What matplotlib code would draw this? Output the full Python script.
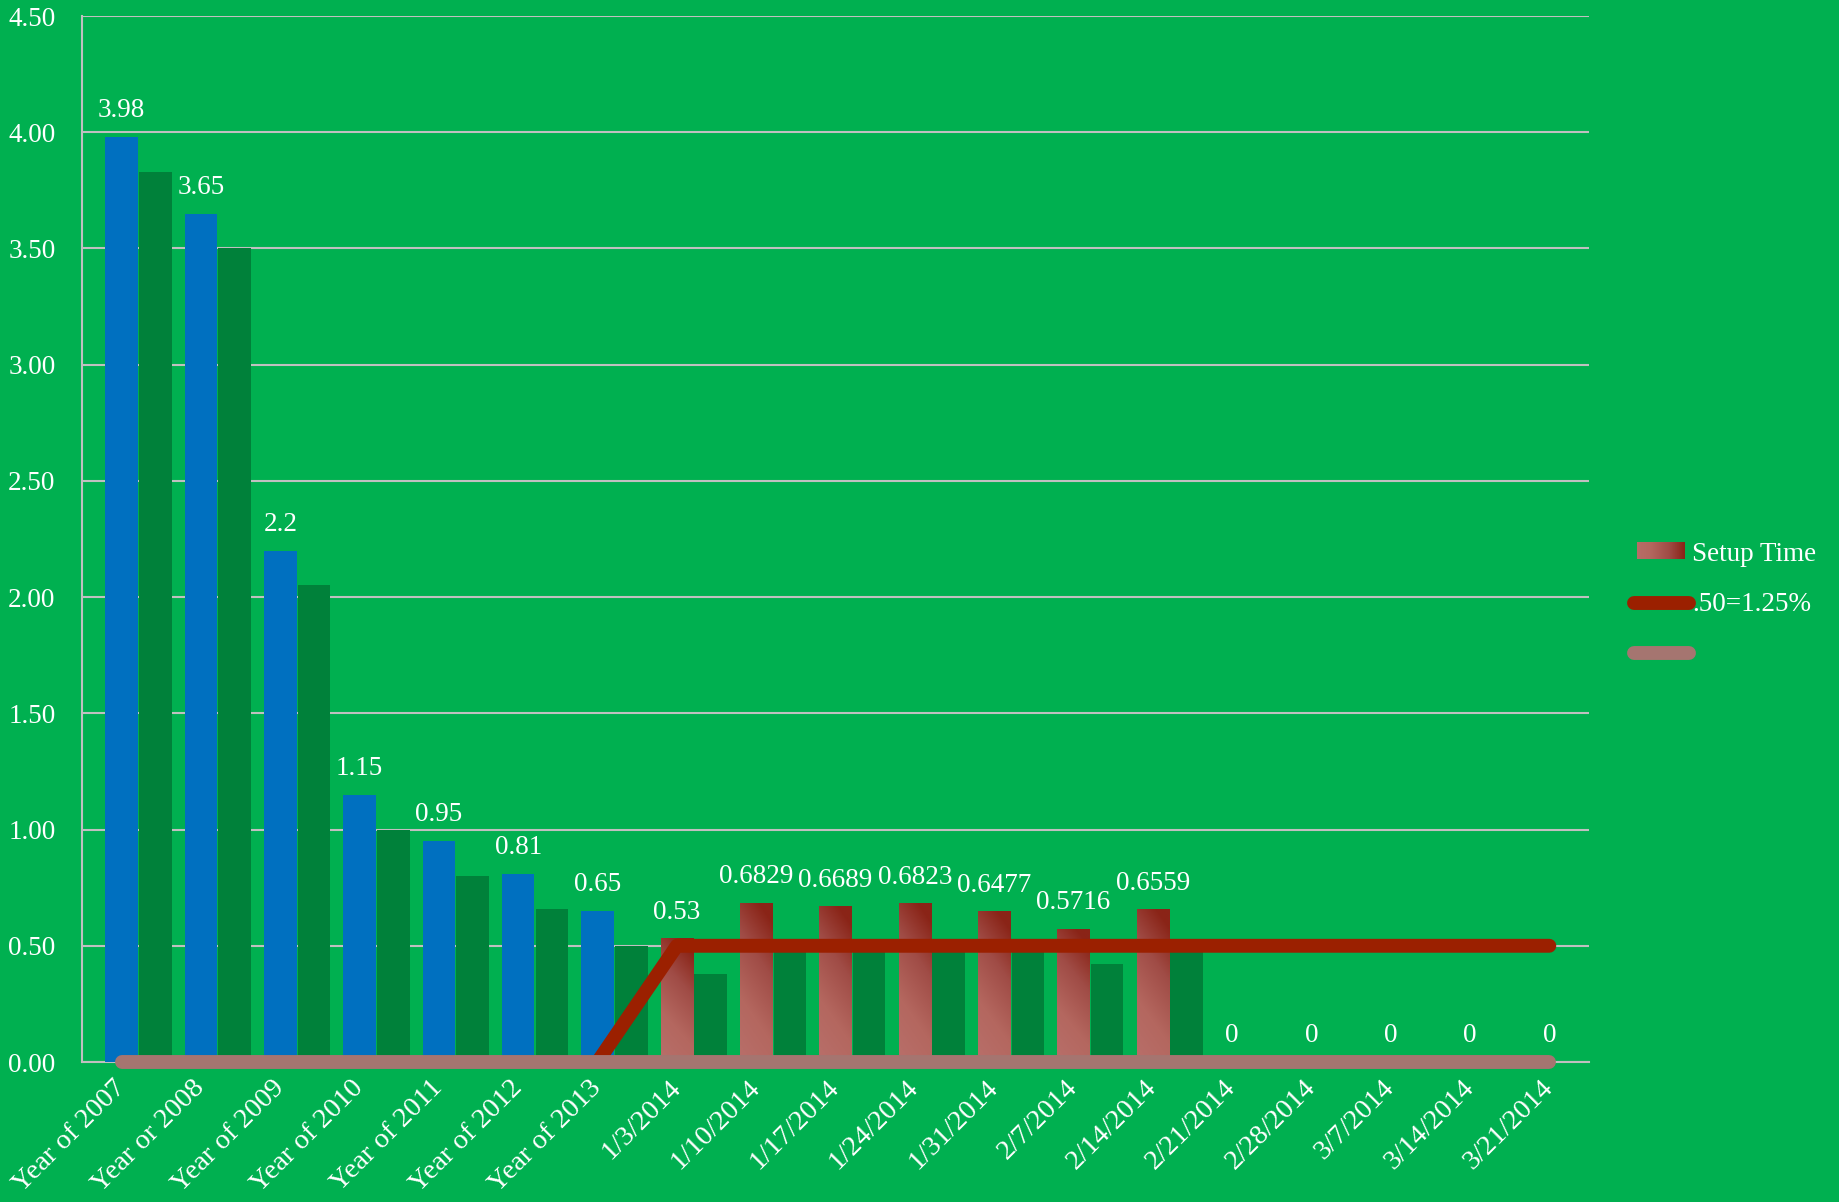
import numpy as np
import matplotlib
matplotlib.use("Agg")
import matplotlib.pyplot as plt
from matplotlib.colors import LinearSegmentedColormap, Normalize
from matplotlib.image import BboxImage
from matplotlib.legend_handler import HandlerBase
from matplotlib.lines import Line2D
from matplotlib.patches import Rectangle
from matplotlib.transforms import Bbox, TransformedBbox

# ---- data ----
categories = ["Year of 2007", "Year or 2008", "Year of 2009", "Year of 2010",
              "Year of 2011", "Year of 2012", "Year of 2013",
              "1/3/2014", "1/10/2014", "1/17/2014", "1/24/2014", "1/31/2014",
              "2/7/2014", "2/14/2014", "2/21/2014", "2/28/2014", "3/7/2014",
              "3/14/2014", "3/21/2014"]
yearly_values = [3.98, 3.65, 2.2, 1.15, 0.95, 0.81, 0.65]
setup_time = [0.53, 0.6829, 0.6689, 0.6823, 0.6477, 0.5716, 0.6559,
              0, 0, 0, 0, 0]
shadow_values = [3.83, 3.50, 2.05, 1.00, 0.80, 0.66, 0.50,
                 0.38, 0.53, 0.52, 0.53, 0.50, 0.42, 0.51, 0, 0, 0, 0, 0]
target_line = [np.nan, np.nan, np.nan, np.nan, np.nan, np.nan, 0,
               0.5, 0.5, 0.5, 0.5, 0.5, 0.5, 0.5, 0.5, 0.5, 0.5, 0.5, 0.5]
base_line = [0, 0, 0, 0, 0, 0, 0, 0, 0, 0, 0, 0, 0, 0, 0, 0, 0, 0, 0]
target_label = ".50=1.25%"
setup_label = "Setup Time"

BG = "#00B050"
BLUE = "#0070C0"
SHADOW = "#00813A"
RED = "#9B2000"
MAUVE = "#A57570"
GRID = "#C0C0C0"

grad_cmap = LinearSegmentedColormap.from_list(
    "setup", [(0.0, "#B86F6A"), (0.35, "#B4675F"), (0.7, "#A04C46"), (1.0, "#8A2417")])

plt.rcParams['font.family'] = ['Liberation Serif', 'DejaVu Serif']
FS = 19.5

fig = plt.figure(figsize=(18.39, 12.02), dpi=100, facecolor=BG)
ax = fig.add_axes([82 / 1839, 1 - 1062 / 1202, (1589 - 82) / 1839, (1062 - 16) / 1202])
ax.set_facecolor(BG)

x = np.arange(len(categories))
n_year = len(yearly_values)
x_year = x[:n_year]
x_week = x[n_year:]
w = 0.41

# shadow bars (right of each main bar)
ax.bar(x + 0.425, shadow_values, width=w, color=SHADOW, zorder=2)
# yearly bars
ax.bar(x_year, yearly_values, width=w, color=BLUE, zorder=3)
# weekly setup bars with a diagonal gradient
yy, xx = np.mgrid[0:1:200j, 0:1:30j]
grad = np.clip(0.85 * yy + 0.25 * xx, 0, 1)
setup_bars = ax.bar(x_week, setup_time, width=w, color="none", zorder=3)
for rect in setup_bars:
    h = rect.get_height()
    if h <= 0:
        continue
    x0 = rect.get_x()
    ax.imshow(grad, extent=(x0, x0 + rect.get_width(), 0, h), origin="lower",
              cmap=grad_cmap, norm=Normalize(0, 1), aspect="auto", zorder=3,
              interpolation="bilinear")

# lines
ax.plot(x, target_line, color=RED, lw=10, solid_capstyle="round", zorder=5)
ax.plot(x, base_line, color=MAUVE, lw=10, solid_capstyle="round", zorder=6,
        clip_on=False)

# data labels
all_values = yearly_values + setup_time
for xi, v in zip(x, all_values):
    ax.annotate(f"{v:g}", (xi, v), xytext=(0, 10), textcoords="offset points",
                ha="center", va="bottom", color="white", fontsize=FS, zorder=7)

# axes styling
ax.set_xlim(-0.5, len(categories) - 0.5)
ax.set_ylim(0, 4.5)
ax.set_yticks(np.arange(0, 4.51, 0.5))
ax.set_yticklabels([f"{t:.2f}" for t in np.arange(0, 4.51, 0.5)])
ax.set_xticks(x)
ax.set_xticklabels(categories, rotation=45, ha="right", va="center",
                   rotation_mode="anchor", fontsize=20.5)
ax.tick_params(axis="both", length=0, colors="white")
ax.tick_params(axis="y", pad=19, labelsize=FS)
ax.tick_params(axis="x", pad=16)
ax.yaxis.grid(True, color=GRID, lw=1.5, zorder=1)
ax.set_axisbelow(True)
for s in ["top", "right"]:
    ax.spines[s].set_visible(False)
for s in ["left", "bottom"]:
    ax.spines[s].set_color(GRID)
    ax.spines[s].set_linewidth(1.5)


class GradientPatchHandler(HandlerBase):
    def create_artists(self, legend, orig_handle, xdescent, ydescent,
                       width, height, fontsize, trans):
        bb = Bbox.from_bounds(-xdescent + 0.07 * width, -ydescent,
                              width * 0.86, height)
        img = BboxImage(TransformedBbox(bb, trans), cmap=grad_cmap,
                        norm=Normalize(0, 1), interpolation="bilinear")
        img.set_data(np.linspace(0.1, 1, 64).reshape(1, -1))
        return [img]


setup_handle = Rectangle((0, 0), 1, 1, facecolor="#A04C46")
red_handle = Line2D([], [], color=RED, lw=10, solid_capstyle="round")
mauve_handle = Line2D([], [], color=MAUVE, lw=10, solid_capstyle="round")
leg = ax.legend([setup_handle, red_handle, mauve_handle],
                [setup_label, target_label, ""],
                handler_map={Rectangle: GradientPatchHandler()},
                loc="center left", bbox_to_anchor=(1620 / 1839, 1 - 605 / 1202),
                bbox_transform=fig.transFigure, frameon=False, fontsize=FS,
                handlelength=2.05, handleheight=0.55, handletextpad=0.1,
                labelspacing=0.95, borderpad=0)
for t in leg.get_texts():
    t.set_color("white")

fig.savefig("out.png", dpi=100, facecolor=BG)
